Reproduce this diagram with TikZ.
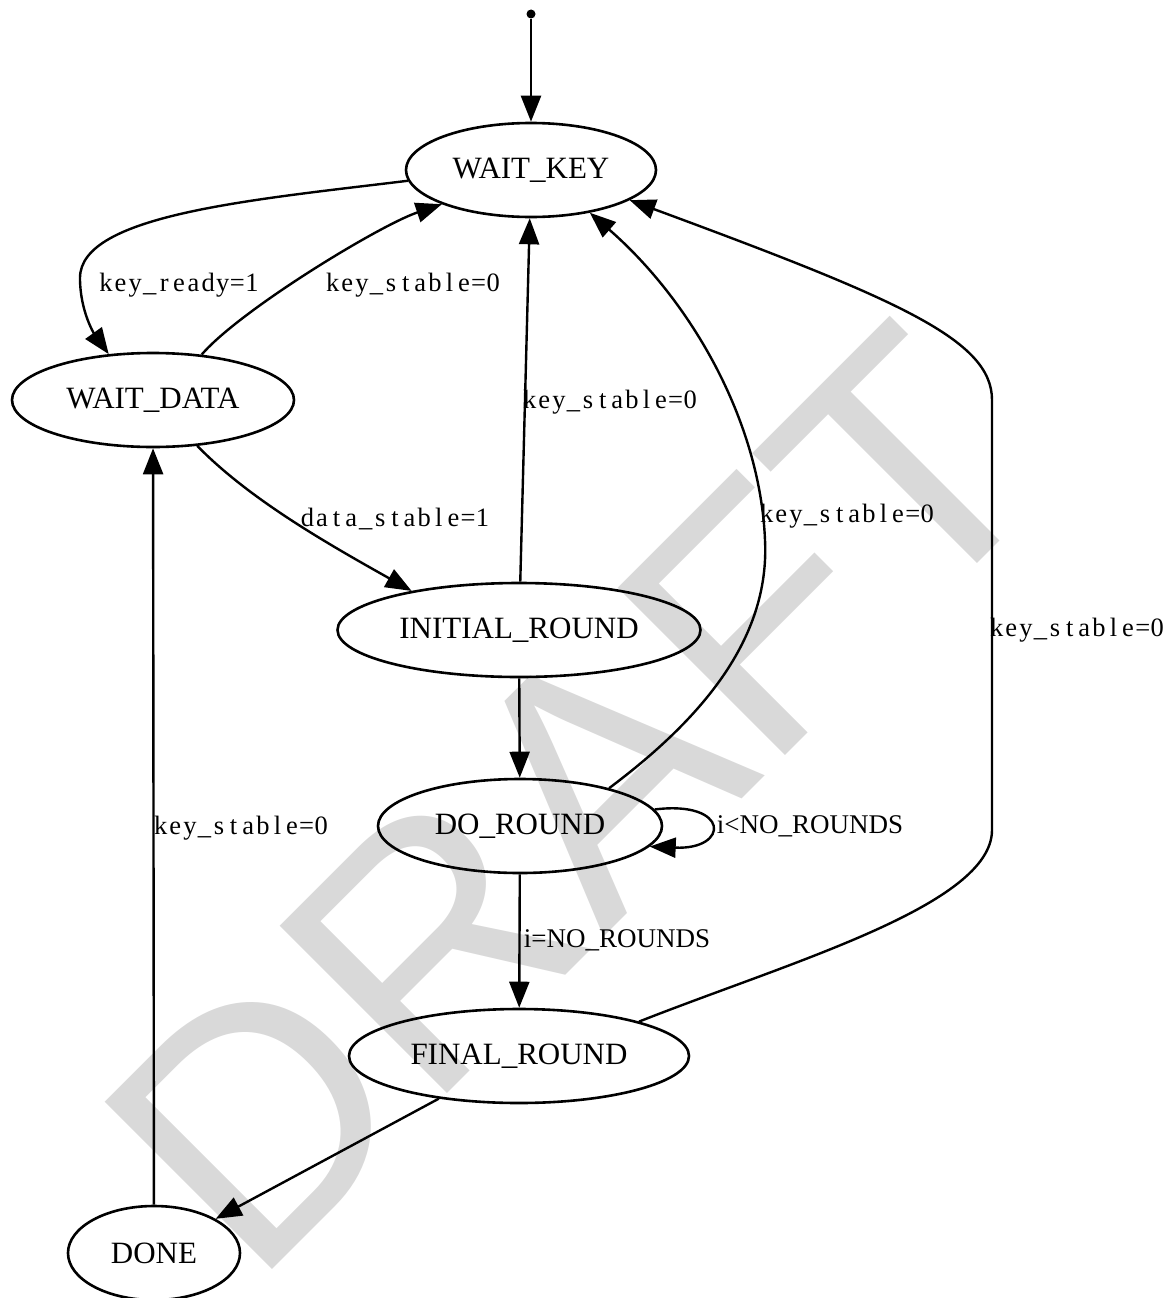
\documentclass[tikz,border=0pt]{standalone}
\usepackage{fontspec}
\usetikzlibrary{shapes.geometric,arrows.meta}
\newfontfamily\statefont{Liberation Serif}
\newfontfamily\draftfont{Liberation Sans}
% edge labels: one fixed cell per character
\newcommand\mono[1]{{\statefont\fontsize{26.5}{30}\selectfont\monoloop#1\relax}}
\def\monoloop#1{\ifx#1\relax\else\makebox[14.6pt]{#1}\expandafter\monoloop\fi}

\begin{document}
\begin{tikzpicture}[x=1pt, y=-1pt,
  state/.style={ellipse, draw, line width=2.6pt, minimum height=94pt, inner sep=0pt,
    font=\statefont\fontsize{31}{36}\selectfont},
  trans/.style={line width=2.4pt, -{Triangle[length=26pt,width=20pt]}},
  cond/.style={inner sep=0pt}]
\useasboundingbox (0,0) rectangle (1170,1298);

% watermark
\node[rotate=45, inner sep=0pt, text=black!15,
  font=\draftfont\fontsize{344}{344}\selectfont] (draft) at (574,800) {DRAFT};

% states
\node[fill, circle, inner sep=0pt, minimum size=9pt] (init) at (531,14) {};
\node[state, minimum width=250pt] (wk) at (531,170) {WAIT\_KEY};
\node[state, minimum width=282pt] (wd) at (153,400) {WAIT\_DATA};
\node[state, minimum width=363pt] (ir) at (519,630) {INITIAL\_ROUND};
\node[state, minimum width=284pt] (dr) at (520,826) {DO\_ROUND};
\node[state, minimum width=340pt] (fr) at (519,1056) {FINAL\_ROUND};
\node[state, minimum width=172pt] (dn) at (154,1253) {DONE};

% transitions
\draw[trans] (init) -- (wk);
\draw[trans] (wk.185) .. controls (250,200) and (80,215) .. (80,278)
  .. controls (80,312) and (95,335) .. (wd.134);
\draw[trans] (wd.43) .. controls (240,310) and (380,225) .. (wk.201);
\draw[trans] (ir) -- (wk);
\draw[trans] (dr.23) .. controls (700,720) and (770,640) .. (765,540)
  .. controls (760,420) and (690,300) .. (wk.324);
\draw[trans] (fr.16) .. controls (790,962) and (992,905) .. (992,830) -- (992,400)
  .. controls (992,340) and (900,300) .. (wk.343);
\draw[trans] (wd.314) .. controls (250,500) and (330,545) .. (ir.160);
\draw[trans] (ir) -- (dr);
\draw[trans] (dr.7) .. controls (730,800) and (730,850) .. (dr.351);
\draw[trans] (dr) -- (fr);
\draw[trans] (fr.208) -- (dn.29);
\draw[trans] (dn) -- (wd);

% conditions
\node[cond] (kr) at (179,285) {\mono{key\_ready=1}};
\node[cond] (ds) at (395,519) {\mono{data\_stable=1}};
\foreach \n/\x/\y in {a/413/285, b/610/402, c/847/516, d/1077/630, e/241/828}
  \node[cond] (ks\n) at (\x,\y) {\mono{key\_stable=0}};
\node[cond, font=\statefont\fontsize{27}{30}\selectfont] (lt) at (810,826) {i<NO\_ROUNDS};
\node[cond, font=\statefont\fontsize{27}{30}\selectfont] (eq) at (617,940) {i=NO\_ROUNDS};
\end{tikzpicture}
\end{document}
